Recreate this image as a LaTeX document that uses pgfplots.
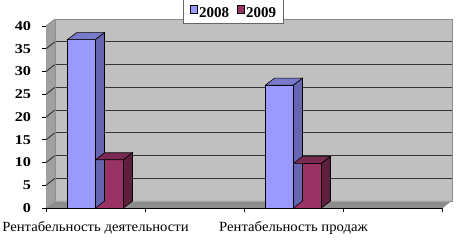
\documentclass[border=0pt]{standalone}
\usepackage{fontspec}
\setmainfont{Liberation Serif}
\usepackage{pgfplots}
\pgfplotsset{compat=1.18}
\definecolor{wall}{HTML}{C0C0C0}
\definecolor{lwall}{HTML}{A0A0A0}
\definecolor{floorc}{HTML}{8C8C8C}
\definecolor{aF}{HTML}{9999FF}
\definecolor{aT}{HTML}{7A7ACC}
\definecolor{aS}{HTML}{6666B0}
\definecolor{bF}{HTML}{993366}
\definecolor{bT}{HTML}{7A2952}
\definecolor{bS}{HTML}{5E1F3F}
\pgfdeclareplotmark{extA}{%
  \pgfsetlinewidth{0.6bp}\pgfsetstrokecolor{black}%
  \pgfsetfillcolor{aT}%
  \pgfpathmoveto{\pgfpoint{-28bp}{0bp}}\pgfpathlineto{\pgfpoint{0bp}{0bp}}%
  \pgfpathlineto{\pgfpoint{9bp}{7bp}}\pgfpathlineto{\pgfpoint{-19bp}{7bp}}\pgfpathclose
  \pgfusepath{fill,stroke}%
  \pgfsetfillcolor{aS}%
  \pgfpathmoveto{\pgfpoint{0bp}{0bp}}\pgfpathlineto{\pgfpoint{0bp}{-\by*4.55bp}}%
  \pgfpathlineto{\pgfpoint{9bp}{-\by*4.55bp+7bp}}\pgfpathlineto{\pgfpoint{9bp}{7bp}}\pgfpathclose
  \pgfusepath{fill,stroke}%
}
\pgfdeclareplotmark{extB}{%
  \pgfsetlinewidth{0.6bp}\pgfsetstrokecolor{black}%
  \pgfsetfillcolor{bT}%
  \pgfpathmoveto{\pgfpoint{0bp}{0bp}}\pgfpathlineto{\pgfpoint{28bp}{0bp}}%
  \pgfpathlineto{\pgfpoint{37bp}{7bp}}\pgfpathlineto{\pgfpoint{9bp}{7bp}}\pgfpathclose
  \pgfusepath{fill,stroke}%
  \pgfsetfillcolor{bS}%
  \pgfpathmoveto{\pgfpoint{28bp}{0bp}}\pgfpathlineto{\pgfpoint{28bp}{-\by*4.55bp}}%
  \pgfpathlineto{\pgfpoint{37bp}{-\by*4.55bp+7bp}}\pgfpathlineto{\pgfpoint{37bp}{7bp}}\pgfpathclose
  \pgfusepath{fill,stroke}%
}
\begin{document}
\begin{tikzpicture}
\path[use as bounding box] (0,0) rectangle (458bp,240bp);
% back wall
\begin{axis}[at={(55bp,39bp)}, anchor=south west, scale only axis,
  width=397bp, height=182bp, xmin=0, xmax=1, ymin=0, ymax=40,
  axis background/.style={fill=wall},
  xtick=\empty, ytick={5,10,...,35}, yticklabels={}, major tick length=0,
  ymajorgrids, grid style={black!80, line width=0.9bp},
  axis line style={black!45, line width=0.8bp}]
\end{axis}
% front axis
\begin{axis}[at={(46bp,32bp)}, anchor=south west, scale only axis,
  width=396bp, height=182bp, xmin=-0.5, xmax=3.5, ymin=0, ymax=40,
  clip=false,
  axis x line*=bottom, axis y line*=left,
  axis line style={black, line width=0.7bp},
  tick align=outside, major tick length=4bp,
  tick style={black, line width=0.7bp},
  ytick={0,5,...,40},
  /pgf/number format/assume math mode=true,
  yticklabel style={font=\fontsize{13.5bp}{15bp}\selectfont\bfseries, xscale=1.2, inner sep=0pt, xshift=-9bp},
  xtick={-0.5,0.5,1.5,2.5,3.5}, xticklabels={},
  extra x ticks={0,2},
  extra x tick labels={Рентабельность деятельности, Рентабельность продаж},
  extra x tick style={major tick length=0bp,
    xticklabel style={font=\fontsize{14bp}{16bp}\selectfont, xscale=1.05, inner sep=0pt, yshift=-13bp}},
  legend style={at={(0.4735,1.0165)}, anchor=south, draw=black!60, fill=white,
    font=\fontsize{15bp}{17bp}\selectfont\bfseries, legend columns=2,
    nodes={inner xsep=1.5bp, inner ysep=1bp, text height=18bp, text depth=1bp},
    /tikz/every even column/.append style={column sep=6bp},
    inner ysep=3bp, inner xsep=6bp},
]
% left wall
\fill[lwall] (rel axis cs:0,0) -- (rel axis cs:0,1) -- ([shift={(9bp,7bp)}]rel axis cs:0,1) -- ([shift={(9bp,7bp)}]rel axis cs:0,0) -- cycle;
\pgfplotsinvokeforeach{5,10,...,35}{\draw[black!80, line width=0.9bp] (axis cs:-0.5,#1) -- ++(9bp,7bp);}
\draw[black!45, line width=0.8bp] (rel axis cs:0,1) -- ++(9bp,7bp);
% floor
\fill[floorc] (rel axis cs:0,0) -- (rel axis cs:1,0) -- ([shift={(9bp,7bp)}]rel axis cs:1,0) -- ([shift={(9bp,7bp)}]rel axis cs:0,0) -- cycle;
\draw[black!35, line width=0.8bp] ([shift={(9bp,7bp)}]rel axis cs:0,0) -- ([shift={(9bp,7bp)}]rel axis cs:1,0);
\draw[black!45, line width=0.8bp] (rel axis cs:1,0) -- ++(9bp,7bp);
% 2008
\addplot[scatter, only marks, mark=extA, forget plot,
  visualization depends on={y \as \by}] coordinates {(0,37) (2,27)};
\addplot[ybar, bar width=28bp, bar shift=-14bp, fill=aF, draw=black, line width=0.6bp,
  legend image code/.code={\draw[fill=aF, draw=black, line width=0.6bp] (0bp,-3.7bp) rectangle (7.4bp,3.7bp);}]
  coordinates {(0,37) (2,27)};
\addlegendentry{2008}
% 2009
\addplot[scatter, only marks, mark=extB, forget plot,
  visualization depends on={y \as \by}] coordinates {(0,10.6) (2,9.8)};
\addplot[ybar, bar width=28bp, bar shift=14bp, fill=bF, draw=black, line width=0.6bp,
  legend image code/.code={\draw[fill=bF, draw=black, line width=0.6bp] (0bp,-3.7bp) rectangle (7.4bp,3.7bp);}]
  coordinates {(0,10.6) (2,9.8)};
\addlegendentry{2009}
\end{axis}
\end{tikzpicture}
\end{document}
